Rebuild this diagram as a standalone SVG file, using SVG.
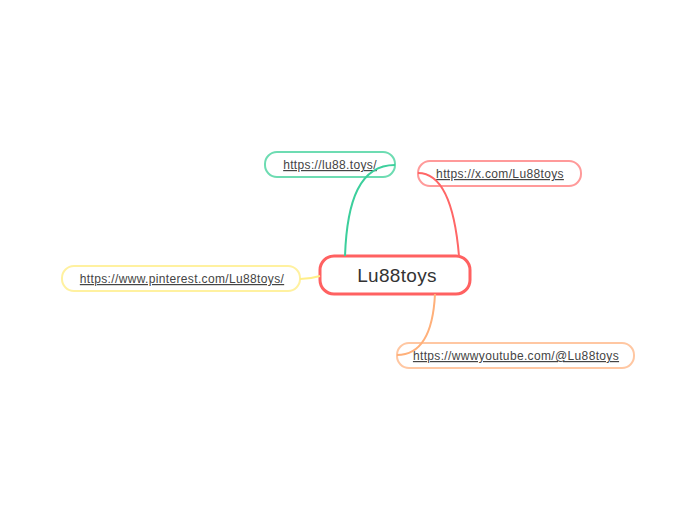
<svg xmlns="http://www.w3.org/2000/svg" width="697" height="520" viewBox="0 0 697 520">
<style>
.n{fill:#fff;stroke-width:2}
.t{font-family:"Liberation Sans",Arial,sans-serif;font-size:12px;letter-spacing:0.35px;fill:#444;text-anchor:middle;text-decoration:underline}
.c{fill:none;stroke-width:2}
</style>
<rect width="697" height="520" fill="#fff"/>
<g id="node-center">
<rect x="320" y="256" width="150" height="38" rx="14" fill="#fff" stroke="#ff6161" stroke-width="3"/>
<text x="397" y="282" font-family="Liberation Sans,Arial,sans-serif" font-size="19" letter-spacing="0.3" fill="#333" text-anchor="middle">Lu88toys</text>
</g>
<g id="node-site">
<rect class="n" x="265" y="152" width="130" height="25" rx="12" stroke="#6ddcb2"/>
<text class="t" x="330" y="169">https://lu88.toys/</text>
</g>
<g id="node-x">
<rect class="n" x="418" y="161" width="163" height="25" rx="12" stroke="#ff9a9a"/>
<text class="t" x="500" y="178">https://x.com/Lu88toys</text>
</g>
<g id="node-pinterest">
<rect class="n" x="62" y="266" width="238" height="25" rx="12" stroke="#fff1a0"/>
<text class="t" x="182" y="283">https://www.pinterest.com/Lu88toys/</text>
</g>
<g id="node-youtube">
<rect class="n" x="397" y="343" width="237" height="25" rx="12" stroke="#ffc7a2"/>
<text class="t" x="516" y="360">https://wwwyoutube.com/@Lu88toys</text>
</g>
<g id="connectors">
<path class="c" d="M345 256 C347 200 360 165 395 165" stroke="#3ccf9c"/>
<path class="c" d="M459 256 Q452 173 418 173" stroke="#f66"/>
<path class="c" d="M320 276 Q310 279 300 279" stroke="#ffee88"/>
<path class="c" d="M435 294 Q432 355 397 355" stroke="#ffb07a"/>
</g>
</svg>
